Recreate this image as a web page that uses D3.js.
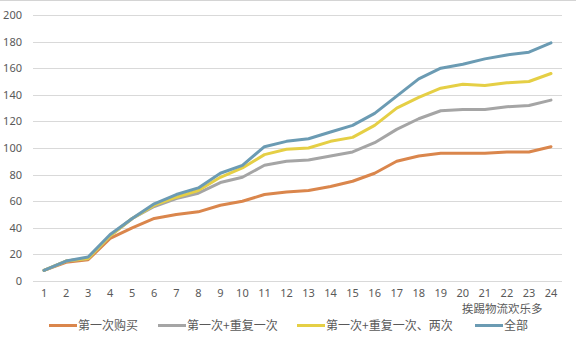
<!DOCTYPE html>
<html><head><meta charset="utf-8">
<script src="https://cdn.jsdelivr.net/npm/d3@7"></script>
<style>body{margin:0;background:#fff}svg{display:block}text{font-family:"Noto Sans CJK SC","Noto Sans",sans-serif}</style>
</head><body>
<svg id="c" width="576" height="339"></svg>
<script>
const categories = d3.range(1, 25).map(String);
const seriesNames = ["第一次购买", "第一次+重复一次", "第一次+重复一次、两次", "全部"];
const seriesColors = ["#DA864C", "#A5A5A5", "#E5CF45", "#6B9BB3"];
const firstBuy   = [8,14,16,32,40,47,50,52,57,60,65,67,68,71,75,81,90,94,96,96,96,97,97,101];
const repeatOnce = [8,15,17,34,47,56,62,66,74,78,87,90,91,94,97,104,114,122,128,129,129,131,132,136];
const repeatTwo  = [8,15,17,34,47,57,63,68,78,85,95,99,100,105,108,117,130,138,145,148,147,149,150,156];
const allBuy     = [8,15,18,35,47,58,65,70,81,87,101,105,107,112,117,126,139,152,160,163,167,170,172,179];
const yTicks = [0,20,40,60,80,100,120,140,160,180,200];
const seriesValues = [firstBuy, repeatOnce, repeatTwo, allBuy];

const svg = d3.select("#c");
const x = d3.scaleBand().domain(categories).range([33, 562]);
const y = d3.scaleLinear().domain([0, 200]).range([281, 15]);

svg.append("line").attr("x1",0).attr("x2",576).attr("y1",0.5).attr("y2",0.5).attr("stroke","#d4d4d4");

// gridlines
svg.append("g").selectAll("line").data(yTicks).join("line")
  .attr("x1", 33).attr("x2", 562)
  .attr("y1", d => Math.round(y(d)) + 0.5).attr("y2", d => Math.round(y(d)) + 0.5)
  .attr("stroke", "#D9D9D9").attr("stroke-width", 1);

// y axis labels
const yAxis = d3.axisLeft(y).tickValues(yTicks).tickSize(0).tickPadding(0);
const gy = svg.append("g").attr("transform", "translate(22,0)").call(yAxis);
gy.select(".domain").remove();
gy.selectAll("text").attr("font-size", 11).attr("fill", "#595959")
  .style("font-family", '"Noto Sans","Noto Sans CJK SC",sans-serif');

// x axis labels
const xAxis = d3.axisBottom(x).tickSize(0).tickPadding(0);
const gx = svg.append("g").attr("transform", "translate(0,289)").call(xAxis);
gx.select(".domain").remove();
gx.selectAll("text").attr("font-size", 11).attr("fill", "#595959")
  .style("font-family", '"Noto Sans","Noto Sans CJK SC",sans-serif');

// lines
const line = d3.line().x((d, i) => x(categories[i]) + x.bandwidth() / 2).y(d => y(d));
seriesValues.forEach((vals, k) => {
  svg.append("path").datum(vals).attr("d", line)
    .attr("fill", "none").attr("stroke", seriesColors[k])
    .attr("stroke-width", 3).attr("stroke-linejoin", "round").attr("stroke-linecap", "round");
});

// legend
const legendStarts = [49, 158, 297, 475];
const lg = svg.append("g");
seriesNames.forEach((name, k) => {
  const g = lg.append("g").attr("transform", `translate(${legendStarts[k]},325.5)`);
  g.append("line").attr("x1", 0).attr("x2", 28).attr("y1", 0).attr("y2", 0)
    .attr("stroke", seriesColors[k]).attr("stroke-width", 3);
  g.append("text").attr("x", 29).attr("y", 0).attr("dy", "0.35em")
    .attr("font-size", 12).attr("fill", "#595959").text(name);
});

// watermark
svg.append("text").attr("x", 462).attr("y", 308.5).attr("dy", "0.35em")
  .attr("font-size", 11.5).attr("fill", "#5a5a5a").attr("stroke", "#fff").attr("stroke-width", 2)
  .attr("paint-order", "stroke").text("挨踢物流欢乐多");
</script>
</body></html>
